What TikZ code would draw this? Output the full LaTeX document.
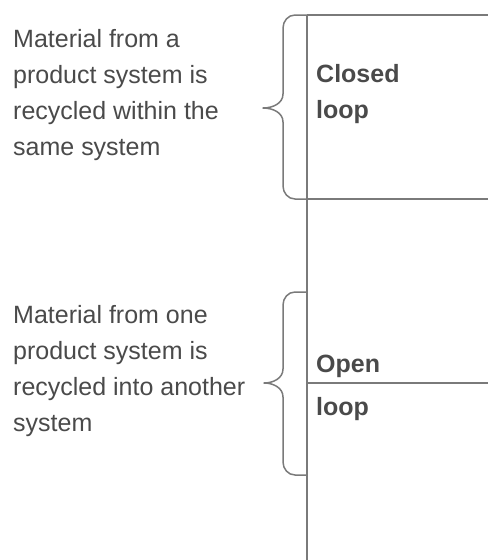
\documentclass[tikz,border=0pt]{standalone}
\usepackage{fontspec}
\setmainfont{Liberation Sans}
\definecolor{inkgray}{HTML}{4A4A4A}
\definecolor{rulegray}{HTML}{7A7A7A}
\tikzset{
  note/.style={anchor=north west, inner sep=0pt, align=left, text=inkgray,
    font=\fontsize{25}{36}\selectfont},
  tag/.style={anchor=north west, inner sep=0pt, align=left, text=inkgray,
    font=\fontsize{25}{36}\selectfont\bfseries},
  rule/.style={draw=rulegray, line width=1.6pt},
  bracket/.style={draw=rulegray, line width=1.5pt, line join=round, line cap=round}
}
\begin{document}
\begin{tikzpicture}[x=1pt,y=-1pt]
\useasboundingbox (0,0) rectangle (488,560);

% table frame: left rule and the horizontal dividers
\draw[rule] (307,15) -- (488,15);
\draw[rule] (307,15) -- (307,560);
\draw[rule] (307,199) -- (488,199);
\draw[rule] (307,383) -- (488,383);

% curly brackets joining each description to the frame
\draw[bracket] (307,15) -- (295,15) to[out=180,in=90] (283,28) -- (283,94)
  to[out=-90,in=0] (263,108) to[out=0,in=90] (283,122) -- (283,186)
  to[out=-90,in=180] (295,199) -- (307,199);
\draw[bracket] (307,292) -- (295,292) to[out=180,in=90] (283,305) -- (283,369)
  to[out=-90,in=0] (264,383) to[out=0,in=90] (283,397) -- (283,462)
  to[out=-90,in=180] (295,475) -- (307,475);

% descriptions
\node[note] (closeddesc) at (13,21.8) {\strut Material from a\\product system is\\recycled within the\\same system};
\node[note] (opendesc) at (13,297.8) {\strut Material from one\\product system is\\recycled into another\\system};

% labels in the frame
\node[tag] (closed) at (316,56.8) {\strut Closed\\loop};
\node[tag] (openword) at (316,346.8) {\strut Open};
\node[tag] (openloop) at (316,389.8) {\strut loop};
\end{tikzpicture}
\end{document}
